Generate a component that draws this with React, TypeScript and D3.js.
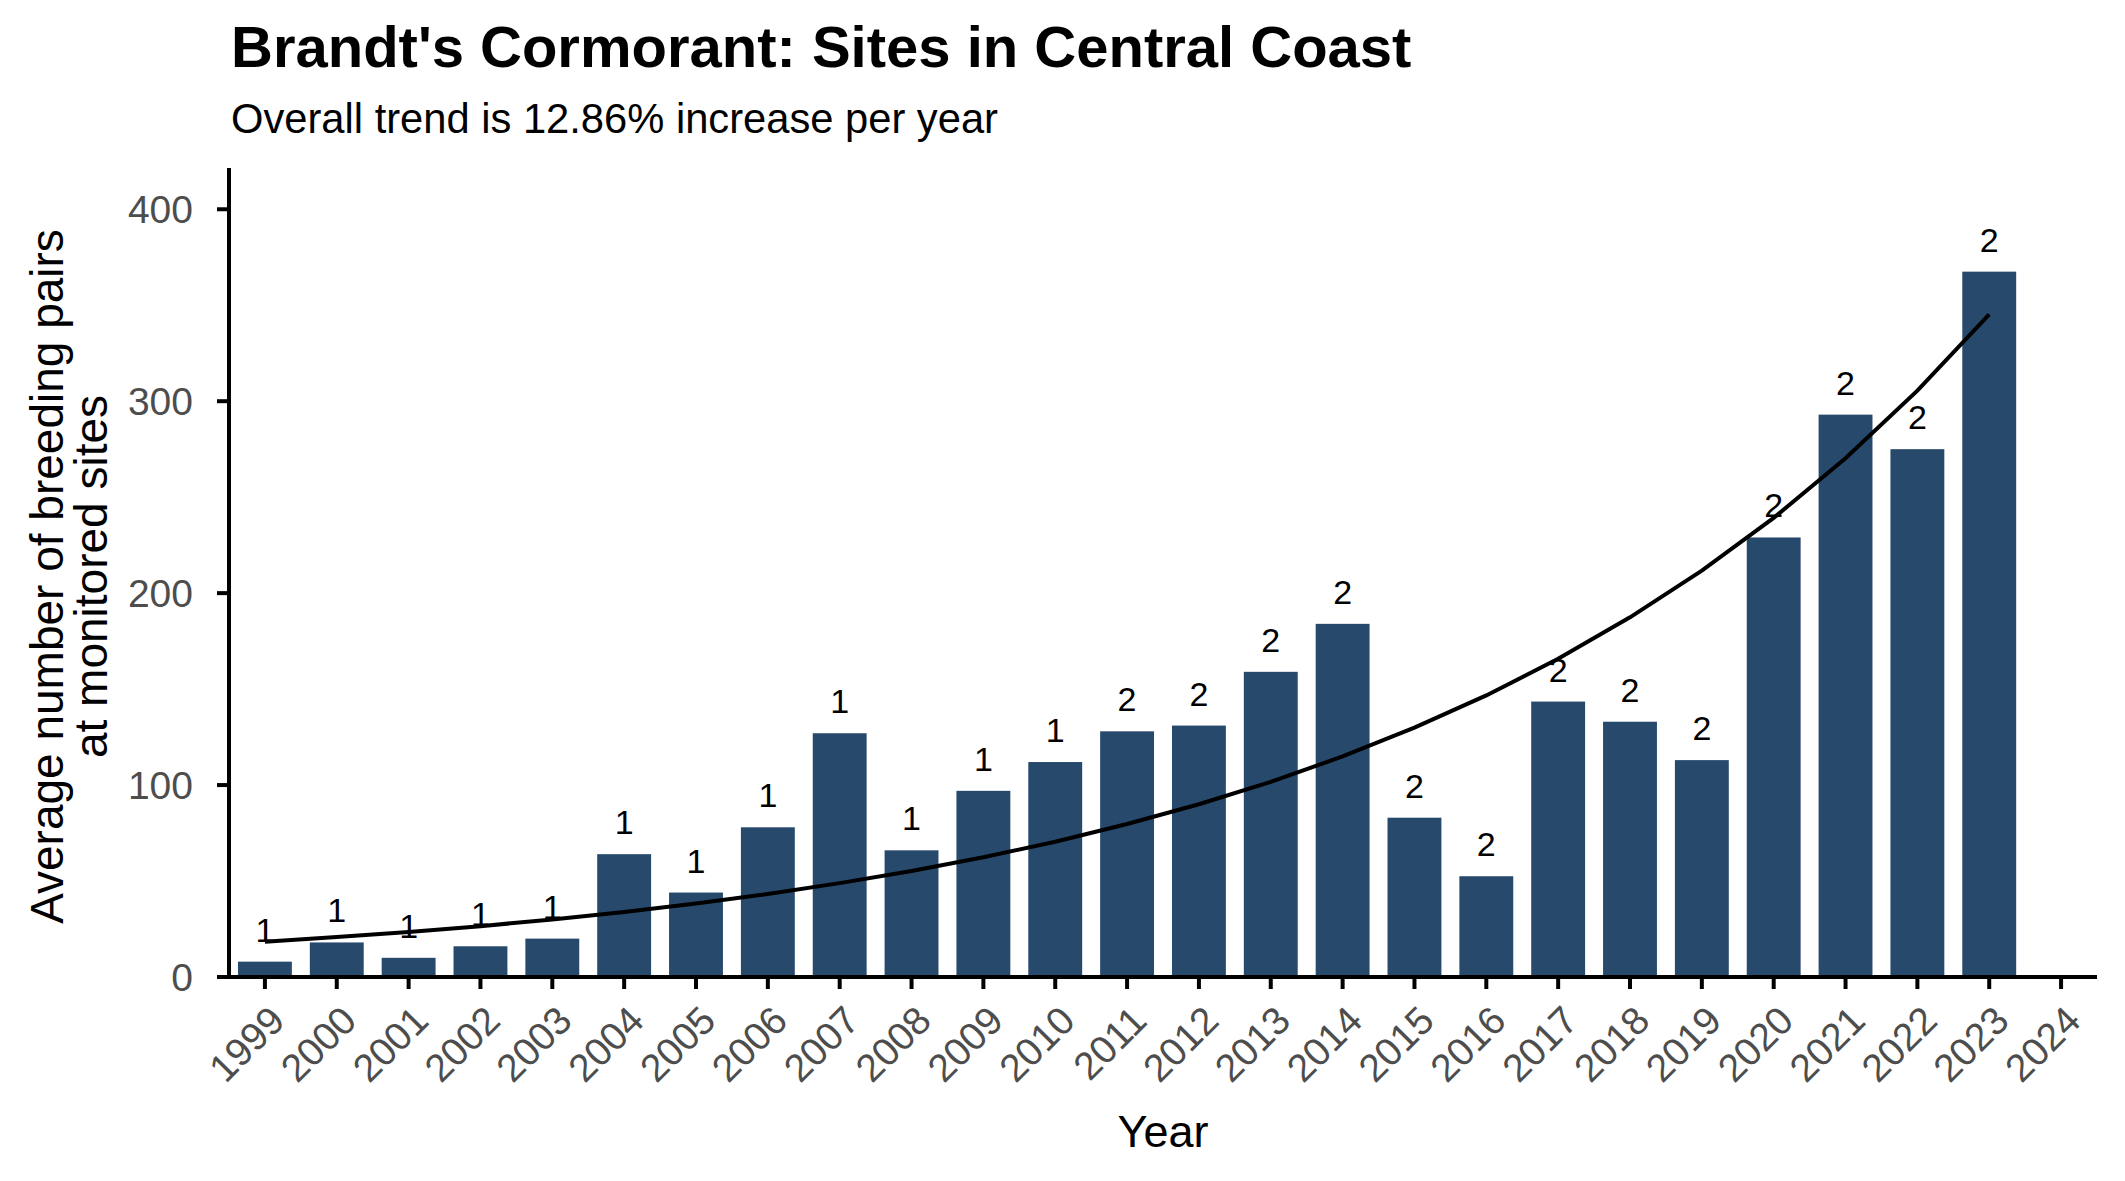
import React, { useRef, useEffect } from 'react';
import * as d3 from 'd3';

// Axis years (2024 has a tick but no bar)
const axisYears = [1999, 2000, 2001, 2002, 2003, 2004, 2005, 2006, 2007, 2008, 2009, 2010, 2011, 2012, 2013, 2014, 2015, 2016, 2017, 2018, 2019, 2020, 2021, 2022, 2023, 2024];
const barYears = [1999, 2000, 2001, 2002, 2003, 2004, 2005, 2006, 2007, 2008, 2009, 2010, 2011, 2012, 2013, 2014, 2015, 2016, 2017, 2018, 2019, 2020, 2021, 2022, 2023];
// Average number of breeding pairs
const pairs = [8, 18, 10, 16, 20, 64, 44, 78, 127, 66, 97, 112, 128, 131, 159, 184, 83, 52.5, 143.5, 133, 113, 229, 293, 275, 367.5];
// Number of monitored sites (label above each bar)
const sites = [1, 1, 1, 1, 1, 1, 1, 1, 1, 1, 1, 1, 2, 2, 2, 2, 2, 2, 2, 2, 2, 2, 2, 2, 2];
// Fitted trend line
const trend = [18.4, 20.8, 23.5, 26.5, 30.0, 33.9, 38.3, 43.3, 48.9, 55.2, 62.4, 70.5, 79.7, 90.0, 101.7, 114.9, 129.9, 146.7, 165.8, 187.4, 211.7, 239.2, 270.3, 305.5, 345.2];
const yTicks = [0, 100, 200, 300, 400];

const WIDTH = 2125;
const HEIGHT = 1181;
const FONT = '"Liberation Sans", Arial, Helvetica, sans-serif';
const BAR_COLOR = '#27496c';
const TICK_COLOR = '#4d4d4d';

const App = () => {
  const svgRef = useRef(null);

  useEffect(() => {
    document.body.style.margin = '0';
    const svg = d3.select(svgRef.current);
    svg.selectAll('*').remove();

    const panel = { left: 229, right: 2097, top: 168, bottom: 977 };

    const x = d3.scalePoint()
      .domain(axisYears.map(String))
      .range([panel.left, panel.right])
      .padding(0.5);
    const barWidth = x.step() * 0.75;

    const y = d3.scaleLinear()
      .domain([0, 421.5])
      .range([panel.bottom, panel.top]);

    const g = svg.append('g').style('font-family', FONT);

    // Bars
    g.selectAll('.bar')
      .data(barYears)
      .enter()
      .append('rect')
      .attr('class', 'bar')
      .attr('x', (d) => x(String(d)) - barWidth / 2)
      .attr('y', (d, i) => y(pairs[i]))
      .attr('width', barWidth)
      .attr('height', (d, i) => y(0) - y(pairs[i]))
      .attr('fill', BAR_COLOR);

    // Site count labels
    g.selectAll('.count')
      .data(barYears)
      .enter()
      .append('text')
      .attr('x', (d) => x(String(d)))
      .attr('y', (d, i) => y(pairs[i]) - 20)
      .attr('text-anchor', 'middle')
      .style('font-size', '34px')
      .attr('fill', '#000')
      .text((d, i) => sites[i]);

    // Trend line
    const line = d3.line()
      .x((d) => x(String(d)))
      .y((d, i) => y(trend[i]));
    g.append('path')
      .datum(barYears)
      .attr('d', line)
      .attr('fill', 'none')
      .attr('stroke', '#000')
      .attr('stroke-width', 4);

    // Axes lines
    g.append('line')
      .attr('x1', panel.left).attr('x2', panel.left)
      .attr('y1', panel.top).attr('y2', panel.bottom + 2)
      .attr('stroke', '#000').attr('stroke-width', 4);
    g.append('line')
      .attr('x1', panel.left - 2).attr('x2', panel.right)
      .attr('y1', panel.bottom).attr('y2', panel.bottom)
      .attr('stroke', '#000').attr('stroke-width', 4);

    // Y ticks
    const yt = g.selectAll('.ytick').data(yTicks).enter().append('g');
    yt.append('line')
      .attr('x1', panel.left - 12).attr('x2', panel.left)
      .attr('y1', (d) => y(d)).attr('y2', (d) => y(d))
      .attr('stroke', '#000').attr('stroke-width', 4);
    yt.append('text')
      .attr('x', 193)
      .attr('y', (d) => y(d))
      .attr('dy', '0.36em')
      .attr('text-anchor', 'end')
      .style('font-size', '39px')
      .attr('fill', TICK_COLOR)
      .text((d) => d);

    // X ticks
    const xt = g.selectAll('.xtick').data(axisYears).enter().append('g');
    xt.append('line')
      .attr('x1', (d) => x(String(d))).attr('x2', (d) => x(String(d)))
      .attr('y1', panel.bottom).attr('y2', panel.bottom + 12)
      .attr('stroke', '#000').attr('stroke-width', 4);
    xt.append('text')
      .attr('transform', (d) => `translate(${x(String(d)) + 2}, ${panel.bottom + 26}) rotate(-45)`)
      .attr('dy', '0.72em')
      .attr('text-anchor', 'end')
      .style('font-size', '39px')
      .attr('fill', TICK_COLOR)
      .text((d) => d);

    // Axis titles
    g.append('text')
      .attr('x', (panel.left + panel.right) / 2)
      .attr('y', 1147)
      .attr('text-anchor', 'middle')
      .style('font-size', '45px')
      .attr('fill', '#000')
      .text('Year');

    const yTitle = g.append('text')
      .attr('transform', `translate(0, ${(panel.top + panel.bottom) / 2 + 4}) rotate(-90)`)
      .attr('text-anchor', 'middle')
      .style('font-size', '46px')
      .attr('fill', '#000');
    yTitle.append('tspan').attr('x', 0).attr('y', 63).text('Average number of breeding pairs');
    yTitle.append('tspan').attr('x', 0).attr('y', 107).text('at monitored sites');

    // Title and subtitle
    g.append('text')
      .attr('x', 231)
      .attr('y', 67)
      .style('font-size', '58px')
      .style('font-weight', 'bold')
      .attr('fill', '#000')
      .text("Brandt's Cormorant: Sites in Central Coast");
    g.append('text')
      .attr('x', 231)
      .attr('y', 133)
      .style('font-size', '41.7px')
      .attr('fill', '#000')
      .text('Overall trend is 12.86% increase per year');
  }, []);

  return (
    <svg ref={svgRef} width={WIDTH} height={HEIGHT} style={{ display: 'block', background: '#fff' }} />
  );
};

export default App;
